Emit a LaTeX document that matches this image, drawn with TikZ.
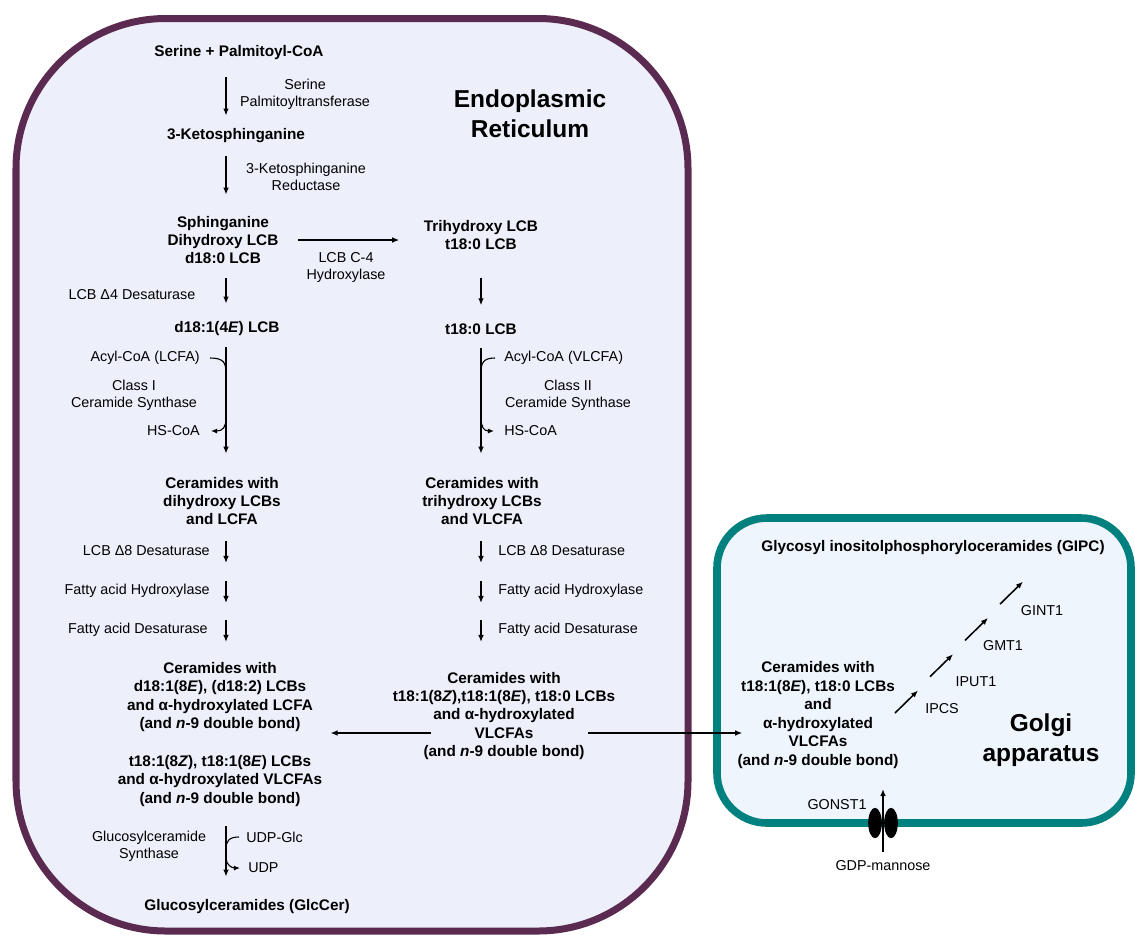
\documentclass[tikz,border=0pt]{standalone}
\usepackage{fontspec}
\setmainfont{Liberation Sans}
\usepackage{tikz}
\usetikzlibrary{arrows.meta,calc}
\definecolor{clrER}{RGB}{91,42,81}
\definecolor{bgER}{RGB}{237,239,250}
\definecolor{clrGA}{RGB}{0,128,126}
\definecolor{bgGA}{RGB}{238,245,252}
\tikzset{
  chem/.style={font=\fontsize{10.9}{13.1}\selectfont\bfseries,align=center,inner sep=0pt},
  enz/.style={font=\fontsize{10.2}{12.2}\selectfont,align=center,inner sep=0pt},
  organelle/.style={font=\fontsize{17.4}{21.3}\selectfont\bfseries,align=center,inner sep=0pt},
  arrow/.style={-{Latex[length=5pt,width=4pt]},line width=0.95pt},
  side/.style={line width=0.8pt},
  sidearrow/.style={side,-{Latex[length=4.3pt,width=3.6pt]}}
}

\begin{document}
\begin{tikzpicture}[x=0.025cm,y=-0.025cm]
  \useasboundingbox (0,0) rectangle (1135,935);
  \draw[line width=0.175cm,draw=clrER,fill=bgER,rounded corners=3.75cm] (16,18.5) rectangle (688,931);
  \draw[line width=0.19cm,draw=clrGA,fill=bgGA,rounded corners=1.25cm] (717,518) rectangle (1131,823);
  \coordinate (colL) at (226,0);
  \coordinate (colR) at (481,0);
  \coordinate (rowY) at (0,733);
  \node[organelle] (erT) at (530,113.5) {Endoplasmic\\Reticulum};
  \node[organelle] (gaT) at (1041,740) {Golgi\\apparatus};
  % metabolites
  \node[chem] (serine) at (239,53) {Serine + Palmitoyl-CoA};
  \node[chem] (keto) at (236,136) {3-Ketosphinganine};
  \node[chem] (sphing) at (223,240) {Sphinganine\\Dihydroxy LCB\\d18:0 LCB};
  \node[chem] (trihyd) at (481,235) {Trihydroxy LCB\\t18:0 LCB};
  \node[chem] (d181) at (227,329) {d18:1(4\textit{E}) LCB};
  \node[chem] (t180) at (481,329) {t18:0 LCB};
  \node[chem] (cerL) at (222,501) {Ceramides with\\dihydroxy LCBs\\and LCFA};
  \node[chem] (cerT) at (482,501) {Ceramides with\\trihydroxy LCBs\\and VLCFA};
  \node[chem] (cerL1) at (220,697) {Ceramides with\\d18:1(8\textit{E}), (d18:2) LCBs\\and α-hydroxylated LCFA\\(and \textit{n}-9 double bond)};
  \node[chem] (cerL2) at (220,781) {t18:1(8\textit{Z}), t18:1(8\textit{E}) LCBs\\and α-hydroxylated VLCFAs\\(and \textit{n}-9 double bond)};
  \node[chem] (cerR) at (504,716) {Ceramides with\\t18:1(8\textit{Z}),t18:1(8\textit{E}), t18:0 LCBs\\and α-hydroxylated\\VLCFAs\\(and \textit{n}-9 double bond)};
  \node[chem] (glc) at (247,907) {Glucosylceramides (GlcCer)};
  \node[chem] (gipc) at (933,548) {Glycosyl inositolphosphoryloceramides (GIPC)};
  \node[chem] (cerG) at (818,715) {Ceramides with\\t18:1(8\textit{E}), t18:0 LCBs\\and\\α-hydroxylated\\VLCFAs\\(and \textit{n}-9 double bond)};
  % enzymes
  \node[enz] (spt) at (305,94.5) {Serine\\Palmitoyltransferase};
  \node[enz] (ksr) at (306,176.5) {3-Ketosphinganine\\Reductase};
  \node[enz] (c4h) at (346,267.5) {LCB C-4\\Hydroxylase};
  \node[enz] (d4) at (132,295) {LCB Δ4 Desaturase};
  \node[enz,anchor=east] (acylL) at (200,358) {Acyl-CoA (LCFA)};
  \node[enz] (cs1) at (134,395.5) {Class I\\Ceramide Synthase};
  \node[enz,anchor=east] (hsL) at (200,431) {HS-CoA};
  \node[enz,anchor=west] (acylR) at (504,358) {Acyl-CoA (VLCFA)};
  \node[enz] (cs2) at (568,395.5) {Class II\\Ceramide Synthase};
  \node[enz,anchor=west] (hsR) at (504,431) {HS-CoA};
  \node[enz,anchor=east] (d8L) at (210,551) {LCB Δ8 Desaturase};
  \node[enz,anchor=east] (fahL) at (210,591) {Fatty acid Hydroxylase};
  \node[enz,anchor=east] (fadL) at (208,630) {Fatty acid Desaturase};
  \node[enz,anchor=west] (d8R) at (498,551) {LCB Δ8 Desaturase};
  \node[enz,anchor=west] (fahR) at (498,591) {Fatty acid Hydroxylase};
  \node[enz,anchor=west] (fadR) at (498,630) {Fatty acid Desaturase};
  \node[enz] (gcs) at (149,846) {Glucosylceramide\\Synthase};
  \node[enz,anchor=west] (udpglc) at (246,837) {UDP-Glc};
  \node[enz,anchor=west] (udp) at (248,868) {UDP};
  \node[enz] (ipcs) at (942,709) {IPCS};
  \node[enz] (iput) at (976,682) {IPUT1};
  \node[enz] (gmt) at (1003,646) {GMT1};
  \node[enz] (gint) at (1042,611) {GINT1};
  \node[enz] (gonst) at (837,805) {GONST1};
  \node[enz] (gdp) at (883,866) {GDP-mannose};
  % pathway arrows
  \draw[arrow,shorten <=0.425cm,shorten >=0.325cm] (serine.south -| colL) -- (keto.north -| colL);
  \draw[arrow,shorten <=0.325cm,shorten >=0.525cm] (keto.south -| colL) -- (sphing.north -| colL);
  \draw[arrow,shorten <=0.49cm,shorten >=0.61cm] (sphing.east) -- (sphing.east -| trihyd.west);
  \draw[arrow,shorten <=0.34cm,shorten >=0.45cm] (sphing.south -| colL) -- (d181.north -| colL);
  \draw[arrow,shorten <=0.69cm,shorten >=0.45cm] (trihyd.south -| colR) -- (t180.north -| colR);
  \draw[arrow,shorten <=0.26cm,shorten >=0.575cm] (d181.south -| colL) -- (cerL.north -| colL);
  \draw[arrow,shorten <=0.34cm,shorten >=0.575cm] (t180.south -| colR) -- (cerT.north -| colR);
  \foreach \lab in {d8L,fahL,fadL}
    \draw[arrow] (\lab.east -| colL) ++(0,-10) -- ++(0,22);
  \foreach \lab in {d8R,fahR,fadR}
    \draw[arrow] (\lab.west -| colR) ++(0,-10) -- ++(0,22);
  \draw[arrow] ($(cerR.center |- rowY)+(-73,0)$) -- ($(cerL2.east |- rowY)+(8,0)$);
  \draw[arrow] ($(cerR.center |- rowY)+(84,0)$) -- ($(cerG.west |- rowY)+(5,0)$);
  \draw[arrow,shorten <=0.49cm,shorten >=0.575cm] (cerL2.south -| colL) -- (glc.north -| colL);
  % co-substrates
  \draw[side] ($(acylL.east)+(10,0)$) .. controls +(14,0) and +(0,-10) .. ($(acylL.east -| colL)+(0,15)$);
  \draw[sidearrow] ($(hsL.east -| colL)+(0,-13)$) .. controls +(0,9) and +(12,0) .. ($(hsL.east)+(11,0)$);
  \draw[side] ($(acylR.west)+(-9,0)$) .. controls +(-12,0) and +(0,-10) .. ($(acylR.west -| colR)+(0,15)$);
  \draw[sidearrow] ($(hsR.west -| colR)+(0,-13)$) .. controls +(0,9) and +(-10,0) .. ($(hsR.west)+(-10,0)$);
  \draw[side] ($(udpglc.west)+(-7,0)$) .. controls +(-10,0) and +(0,-8) .. ($(udpglc.west -| colL)+(0,12)$);
  \draw[sidearrow] ($(udp.west -| colL)+(0,-10)$) .. controls +(0,7) and +(-8,0) .. ($(udp.west)+(-8,0)$);
  % golgi
  \foreach \i in {0,...,3}
    \draw[arrow,line width=1.1pt] ({895+35*\i},{713-36.3*\i}) -- ++(23,-22.5);
  \fill (875,823) ellipse [x radius=0.17cm, y radius=0.38cm];
  \fill (891,823) ellipse [x radius=0.17cm, y radius=0.38cm];
  \coordinate (gin) at (883,789);
  \draw[arrow,shorten <=0.225cm] (gdp.north) -- (gin);
\end{tikzpicture}
\end{document}
